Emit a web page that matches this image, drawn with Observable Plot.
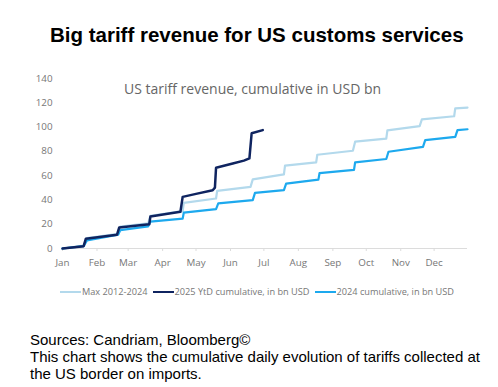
<!DOCTYPE html>
<html>
<head>
<meta charset="utf-8">
<script src="https://cdn.jsdelivr.net/npm/d3@7"></script>
<script src="https://cdn.jsdelivr.net/npm/@observablehq/plot@0.6"></script>
<style>
  html, body { margin: 0; padding: 0; background: #fff; }
  #wrap { position: relative; width: 498px; height: 387px; overflow: hidden; }
  #title { position: absolute; top: 23px; left: 50px; white-space: nowrap;
    font-family: "Liberation Sans", Arial, sans-serif; font-weight: bold; font-size: 20.5px; color: #000; }
  #sub { position: absolute; top: 79px; left: 124px; font-family: "Open Sans", sans-serif;
    font-size: 14px; color: #666; white-space: nowrap; }
  #chart { position: absolute; top: 0; left: 0; }
  #legend { position: absolute; top: 285px; left: 60px; font-family: "Open Sans", sans-serif;
    font-size: 9.2px; color: #777; white-space: nowrap; display: flex; align-items: center; }
  #legend .sw { display: inline-block; width: 21px; height: 2px; margin-right: 1px; }
  #legend .it { display: inline-flex; align-items: center; margin-right: 5px; }
  #caption { position: absolute; top: 331px; left: 30px; font-family: "Liberation Sans", Arial, sans-serif;
    font-size: 15px; line-height: 17px; color: #000; white-space: nowrap; }
</style>
</head>
<body>
<div id="wrap">
  <div id="title">Big tariff revenue for US customs services</div>
  <div id="chart"></div>
  <div id="sub">US tariff revenue, cumulative in USD bn</div>
  <div id="legend"></div>
  <div id="caption">Sources: Candriam, Bloomberg©<br>This chart shows the cumulative daily evolution of tariffs collected at<br>the US border on imports.</div>
</div>
<script>
// Series names
const seriesNames = ["Max 2012-2024", "2025 YtD cumulative, in bn USD", "2024 cumulative, in bn USD"];
const seriesColors = ["#b3d9ec", "#0f2460", "#1da9ee"];

// Max 2012-2024 (dates mapped onto one calendar year)
const maxDates = ["2025-01-01","2025-01-20","2025-01-23","2025-02-20","2025-02-22","2025-03-19","2025-03-21","2025-04-19","2025-04-20","2025-05-19","2025-05-20","2025-06-19","2025-06-21","2025-07-19","2025-07-20","2025-08-17","2025-08-18","2025-09-19","2025-09-21","2025-10-19","2025-10-20","2025-11-18","2025-11-20","2025-12-19","2025-12-20","2025-12-31"];
const maxValues = [0, 2.3, 8.6, 12.0, 18.0, 20.8, 27.0, 30.8, 37.5, 41.2, 47.4, 50.7, 56.9, 61.0, 68.3, 71.0, 77.2, 80.5, 88.0, 90.5, 97.3, 100.8, 106.3, 108.9, 115.4, 116.0];

// 2025 YtD cumulative
const ytdDates = ["2025-01-01","2025-01-20","2025-01-22","2025-02-19","2025-02-21","2025-03-20","2025-03-21","2025-04-17","2025-04-19","2025-05-01","2025-05-16","2025-05-18","2025-05-19","2025-06-03","2025-06-13","2025-06-18","2025-06-20","2025-06-30"];
const ytdValues = [0, 1.9, 8.1, 11.4, 17.3, 20.0, 26.3, 30.3, 42.5, 45.0, 48.0, 50.1, 66.5, 70.0, 72.4, 74.2, 94.9, 97.5];

// 2024 cumulative
const y24Dates = ["2025-01-01","2025-01-20","2025-01-23","2025-02-20","2025-02-22","2025-03-19","2025-03-21","2025-04-19","2025-04-20","2025-05-19","2025-05-21","2025-06-21","2025-06-23","2025-07-19","2025-07-21","2025-08-19","2025-08-20","2025-09-20","2025-09-21","2025-10-19","2025-10-21","2025-11-21","2025-11-23","2025-12-20","2025-12-22","2025-12-31"];
const y24Values = [0, 2.0, 6.7, 11.4, 15.2, 18.2, 22.2, 24.6, 29.5, 32.5, 37.1, 39.8, 45.8, 48.0, 53.4, 56.7, 62.0, 64.8, 71.0, 73.7, 79.7, 83.7, 89.2, 91.9, 97.5, 98.2];

// Axis ticks
const yTicks = [0, 20, 40, 60, 80, 100, 120, 140];
const monthTicks = ["2025-01-01","2025-02-01","2025-03-01","2025-04-01","2025-05-01","2025-06-01","2025-07-01","2025-08-01","2025-09-01","2025-10-01","2025-11-01","2025-12-01"];
const monthLabels = ["Jan","Feb","Mar","Apr","May","Jun","Jul","Aug","Sep","Oct","Nov","Dec"];

const mk = (dates, vals) => dates.map((d, i) => ({date: new Date(d), value: vals[i]}));
const maxData = mk(maxDates, maxValues);
const ytdData = mk(ytdDates, ytdValues);
const y24Data = mk(y24Dates, y24Values);
const tickDates = monthTicks.map(d => new Date(d));

const plot = Plot.plot({
  width: 498,
  height: 310,
  marginTop: 78,
  marginBottom: 62,
  marginLeft: 62,
  marginRight: 31,
  style: { fontFamily: "Open Sans, sans-serif", fontSize: "9.8px", color: "#777", background: "transparent" },
  x: { type: "utc", domain: [new Date("2025-01-01"), new Date("2025-12-31")] },
  y: { domain: [0, 140] },
  marks: [
    Plot.ruleY([0], { stroke: "#dcdcdc", strokeWidth: 1.2 }),
    Plot.axisY({ ticks: yTicks, tickSize: 0, tickPadding: 10, label: null, fill: "#777" }),
    Plot.axisX({ ticks: tickDates, tickFormat: (d) => monthLabels[d.getUTCMonth()], tickSize: 3, tickPadding: 8, label: null, stroke: "#dcdcdc", fill: "#777" }),
    Plot.line(maxData, { x: "date", y: "value", stroke: seriesColors[0], strokeWidth: 2.2 }),
    Plot.line(y24Data, { x: "date", y: "value", stroke: seriesColors[2], strokeWidth: 2.2 }),
    Plot.line(ytdData, { x: "date", y: "value", stroke: seriesColors[1], strokeWidth: 2.5 })
  ]
});
document.getElementById("chart").appendChild(plot);

const legend = document.getElementById("legend");
seriesNames.forEach((name, i) => {
  const it = document.createElement("span");
  it.className = "it";
  const sw = document.createElement("span");
  sw.className = "sw";
  sw.style.background = seriesColors[i];
  it.appendChild(sw);
  it.appendChild(document.createTextNode(name));
  legend.appendChild(it);
});
</script>
</body>
</html>
